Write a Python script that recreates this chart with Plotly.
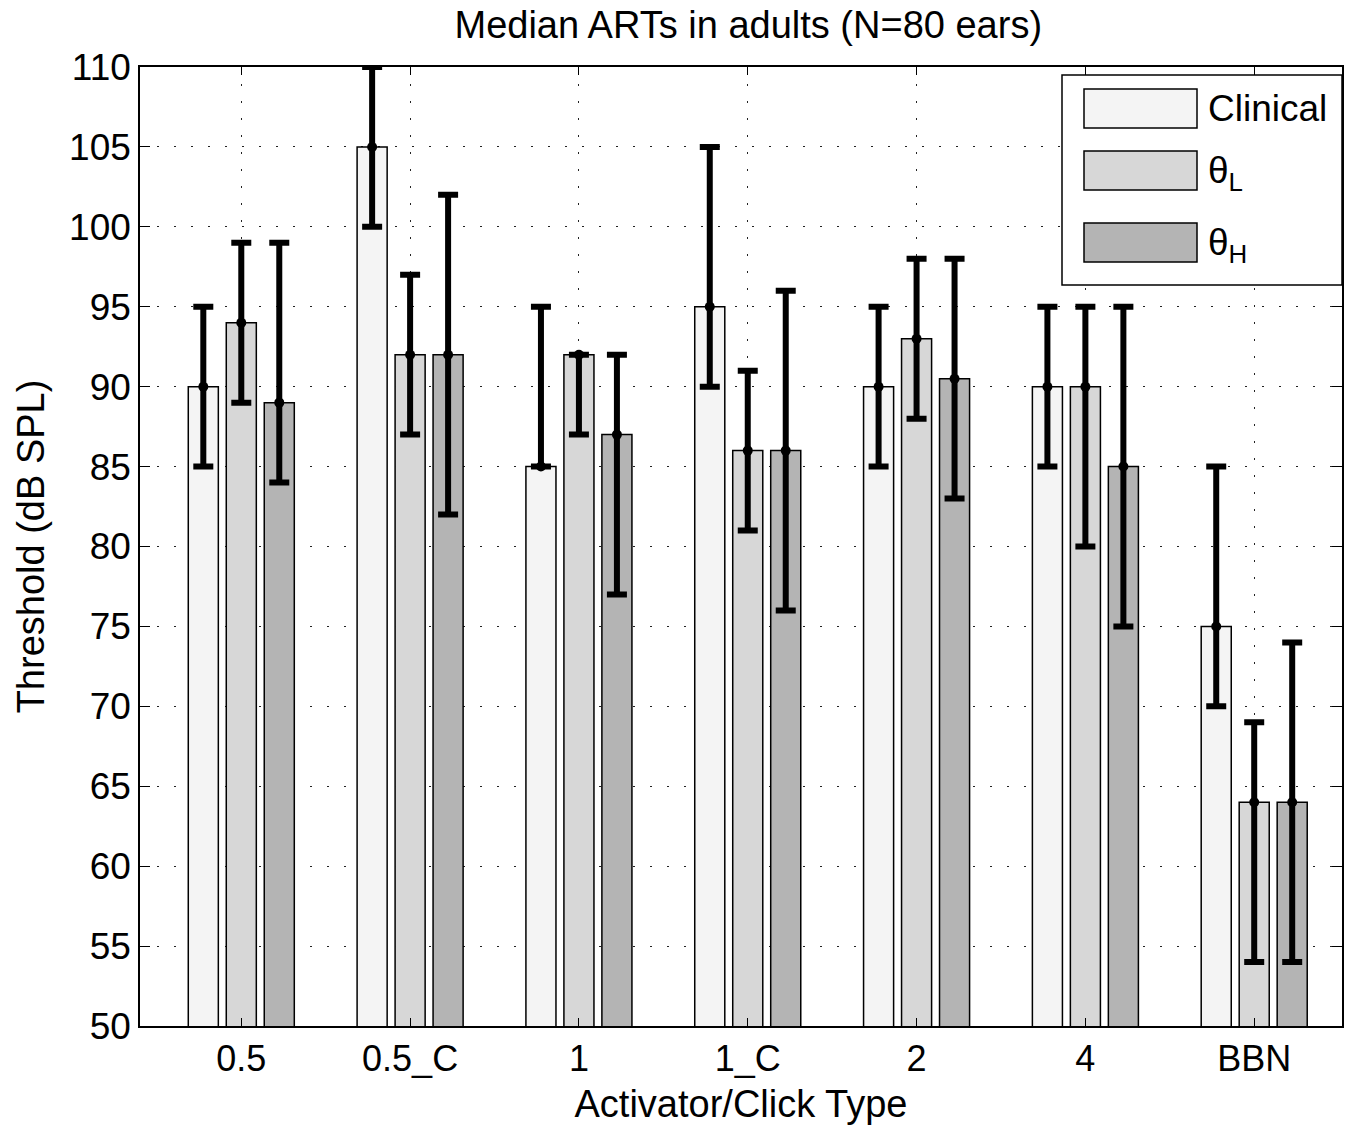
import plotly.graph_objects as go

categories = ["0.5", "0.5_C", "1", "1_C", "2", "4", "BBN"]
series_names = ["Clinical", "θ<sub>L</sub>", "θ<sub>H</sub>"]
series_colors = ["#f4f4f4", "#d7d7d7", "#b4b4b4"]

median_clinical = [90, 105, 85, 95, 90, 90, 75]
low_clinical = [85, 100, 85, 90, 85, 85, 70]
high_clinical = [95, 110, 95, 105, 95, 95, 85]

median_thetaL = [94, 92, 92, 86, 93, 90, 64]
low_thetaL = [89, 87, 87, 81, 88, 80, 54]
high_thetaL = [99, 97, 92, 91, 98, 95, 69]

median_thetaH = [89, 92, 87, 86, 90.5, 85, 64]
low_thetaH = [84, 82, 77, 76, 83, 75, 54]
high_thetaH = [99, 102, 92, 96, 98, 95, 74]

medians = [median_clinical, median_thetaL, median_thetaH]
lows = [low_clinical, low_thetaL, low_thetaH]
highs = [high_clinical, high_thetaL, high_thetaH]

FONT = "Arial, Liberation Sans, sans-serif"
slot = 0.225
bar_w = 0.178

fig = go.Figure()
for k in range(3):
    xs = [i + (k - 1) * slot for i in range(len(categories))]
    fig.add_trace(go.Bar(
        x=xs, y=medians[k], width=bar_w, base=0,
        marker=dict(color=series_colors[k], line=dict(color="black", width=1.5)),
        name=series_names[k], showlegend=False,
    ))
for k in range(3):
    xs = [i + (k - 1) * slot for i in range(len(categories))]
    fig.add_trace(go.Scatter(
        x=xs, y=medians[k], mode="markers",
        marker=dict(color="black", size=10),
        error_y=dict(type="data", symmetric=False,
                     array=[h - m for h, m in zip(highs[k], medians[k])],
                     arrayminus=[m - l for m, l in zip(medians[k], lows[k])],
                     color="black", thickness=6, width=10),
        showlegend=False,
    ))

# manual legend (large swatches like the original)
px0, px1, py0, py1 = 140, 1342, 67, 1026
def PX(p):
    return (p - px0) / (px1 - px0)
def PY(p):
    return (py1 - p) / (py1 - py0)

shapes = [dict(type="rect", xref="paper", yref="paper",
               x0=PX(1062), x1=PX(1342), y0=PY(285), y1=PY(75),
               line=dict(color="black", width=1.5), fillcolor="white", layer="above")]
annotations = []
sw_tops = [89, 151, 223]
for k in range(3):
    t = sw_tops[k]
    shapes.append(dict(type="rect", xref="paper", yref="paper",
                       x0=PX(1084), x1=PX(1197), y0=PY(t + 39), y1=PY(t),
                       line=dict(color="black", width=1.5), fillcolor=series_colors[k], layer="above"))
    annotations.append(dict(xref="paper", yref="paper", x=PX(1206), y=PY(t + 19.5 if k == 0 else t + 22),
                            text=series_names[k], showarrow=False, xanchor="left", yanchor="middle",
                            font=dict(family=FONT, size=37, color="black")))

fig.update_layout(
    width=1363, height=1125,
    margin=dict(l=140, r=21, t=67, b=99),
    paper_bgcolor="white", plot_bgcolor="white",
    font=dict(family=FONT, size=34, color="black"),
    title=dict(text="Median ARTs in adults (N=80 ears)", x=0.549, xanchor="center",
               y=1 - 25 / 1125, yanchor="middle", font=dict(family=FONT, size=38, color="black")),
    shapes=shapes, annotations=annotations,
    showlegend=False,
)
fig.update_xaxes(
    range=[-0.6, 6.52], tickvals=list(range(len(categories))), ticktext=categories,
    tickfont=dict(family=FONT, size=36, color="black"),
    showline=True, linecolor="black", linewidth=1.5, mirror="allticks",
    ticks="inside", ticklen=8, tickcolor="black",
    showgrid=True, gridcolor="#222", griddash="2px,15px", gridwidth=1,
    zeroline=False, automargin=False,
    title=dict(text="Activator/Click Type", standoff=12, font=dict(family=FONT, size=38, color="black")),
)
fig.update_yaxes(
    range=[50, 110], tickvals=list(range(50, 111, 5)),
    tickfont=dict(family=FONT, size=37, color="black"),
    showline=True, linecolor="black", linewidth=1.5, mirror="allticks",
    ticks="inside", ticklen=10, tickcolor="black",
    showgrid=True, gridcolor="#222", griddash="2px,15px", gridwidth=1,
    zeroline=False, automargin=False,
    title=dict(text="Threshold (dB SPL)", standoff=13, font=dict(family=FONT, size=38, color="black")),
)

fig.write_html("out.html")
